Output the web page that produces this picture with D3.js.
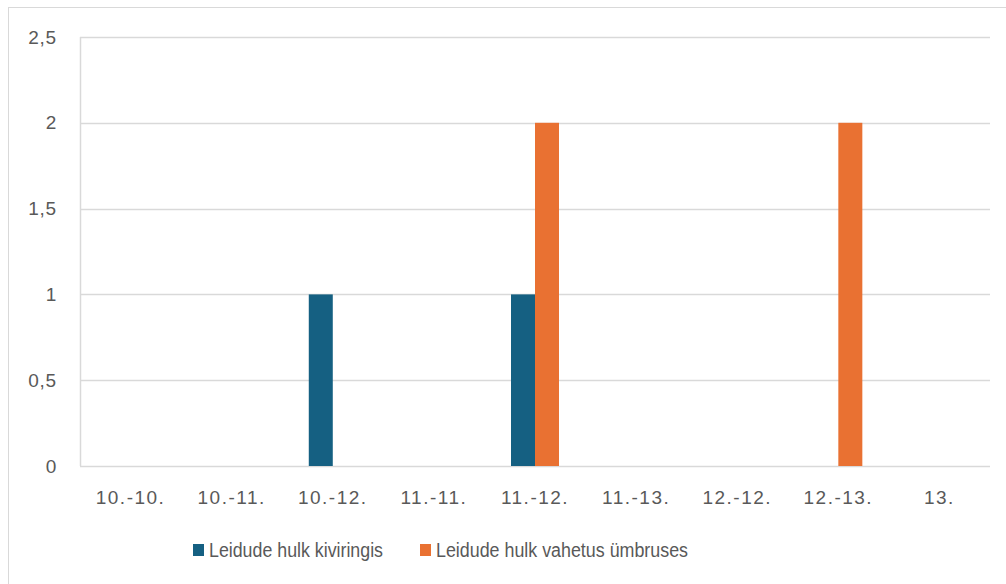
<!DOCTYPE html>
<html>
<head>
<meta charset="utf-8">
<script src="https://d3js.org/d3.v7.min.js"></script>
<style>
  body { margin: 0; background: #fff; }
  text { font-family: "Liberation Sans", Arial, sans-serif; fill: #595959; }
</style>
</head>
<body>
<svg></svg>
<script>
// data
var categories = ["10.-10.", "10.-11.", "10.-12.", "11.-11.", "11.-12.", "11.-13.", "12.-12.", "12.-13.", "13."];
var kiviringis = [0, 0, 1, 0, 1, 0, 0, 0, 0];
var umbruses   = [0, 0, 0, 0, 2, 0, 0, 2, 0];
var seriesNames = ["Leidude hulk kiviringis", "Leidude hulk vahetus ümbruses"];
var colors = ["#156082", "#e97132"];
var yTicks = [0, 0.5, 1, 1.5, 2, 2.5];

var width = 1006, height = 584;
var margin = { left: 80, right: 16, top: 37, bottom: 118 };

var svg = d3.select("svg").attr("width", width).attr("height", height);

// outer chart border
svg.append("rect")
    .attr("x", 8.5).attr("y", 7.5)
    .attr("width", width + 10).attr("height", height + 10)
    .attr("fill", "none").attr("stroke", "#d9d9d9");

var x = d3.scaleBand()
    .domain(categories)
    .range([margin.left, width - margin.right]);

var y = d3.scaleLinear()
    .domain([0, 2.5])
    .range([height - margin.bottom, margin.top]);

var x1 = d3.scaleBand()
    .domain([0, 1])
    .range([0, 48]);

// gridlines
svg.append("g").selectAll("line")
    .data(yTicks)
    .enter().append("line")
    .attr("x1", margin.left).attr("x2", width - margin.right)
    .attr("y1", function (d) { return Math.round(y(d)) + 0.5; })
    .attr("y2", function (d) { return Math.round(y(d)) + 0.5; })
    .attr("stroke", "#d9d9d9").attr("stroke-width", 1.5);

// left edge of plot
svg.append("line")
    .attr("x1", margin.left + 0.5).attr("x2", margin.left + 0.5)
    .attr("y1", y(2.5)).attr("y2", y(0))
    .attr("stroke", "#d9d9d9").attr("stroke-width", 1.5);

// y tick labels
var fmt = function (d) { return String(d).replace(".", ","); };
svg.append("g").selectAll("text")
    .data(yTicks)
    .enter().append("text")
    .attr("x", 57)
    .attr("y", function (d) { return y(d); })
    .attr("dy", "0.35em")
    .attr("text-anchor", "end")
    .style("font-size", "19px")
    .style("letter-spacing", "0.8px")
    .text(fmt);

// bars
var series = [kiviringis, umbruses];
series.forEach(function (vals, si) {
    svg.append("g").selectAll("rect")
        .data(vals)
        .enter().append("rect")
        .attr("x", function (d, i) { return x(categories[i]) + x.bandwidth() / 2 - 24 + x1(si); })
        .attr("y", function (d) { return y(d); })
        .attr("width", x1.bandwidth())
        .attr("height", function (d) { return y(0) - y(d); })
        .attr("fill", colors[si]);
});

// x labels
svg.append("g").selectAll("text")
    .data(categories)
    .enter().append("text")
    .attr("x", function (d) { return x(d) + x.bandwidth() / 2; })
    .attr("y", 504)
    .attr("text-anchor", "middle")
    .style("font-size", "19px")
    .style("letter-spacing", "1.5px")
    .text(function (d) { return d; });

// legend
var legendX = [193, 420];
var legendLen = [174, 252];
var lg = svg.append("g");
seriesNames.forEach(function (name, i) {
    lg.append("rect")
        .attr("x", legendX[i]).attr("y", 544)
        .attr("width", 11).attr("height", 12)
        .attr("fill", colors[i]);
    lg.append("text")
        .attr("x", legendX[i] + 16).attr("y", 557)
        .attr("textLength", legendLen[i])
        .attr("lengthAdjust", "spacingAndGlyphs")
        .style("font-size", "20px")
        .text(name);
});
</script>
</body>
</html>
